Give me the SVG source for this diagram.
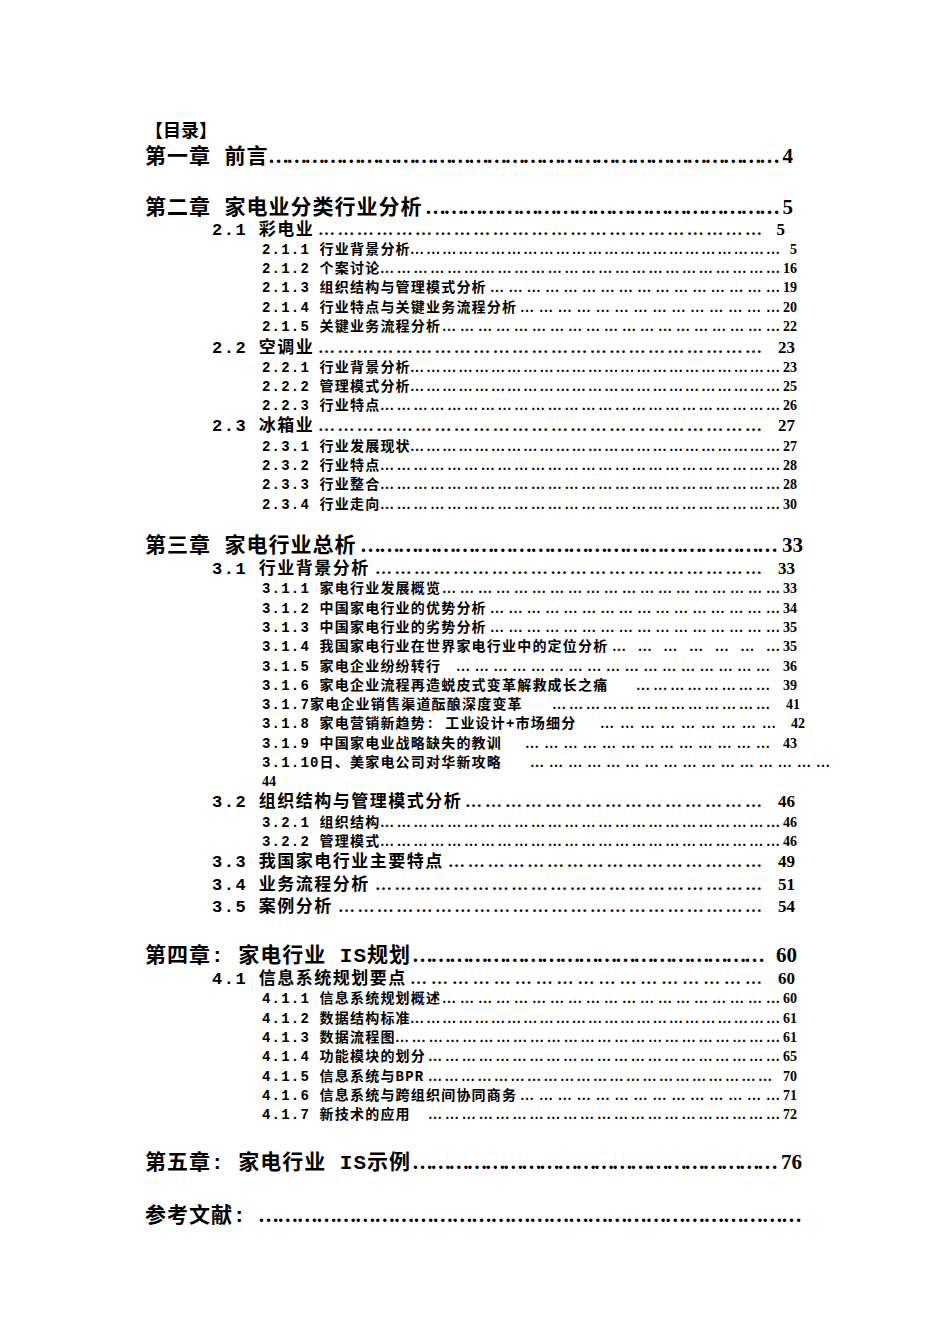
<svg xmlns="http://www.w3.org/2000/svg" width="950" height="1344" viewBox="0 0 950 1344">
<style>
text{font-family:"Liberation Mono","Noto Sans CJK SC",monospace;fill:#000;font-weight:bold}
.c{font-size:21px;letter-spacing:1px}
.s{font-size:17px;letter-spacing:1.5px}
.t{font-size:14px;letter-spacing:1.2px;font-weight:normal}
.d{font-family:"Liberation Serif",serif;letter-spacing:0}
.n{text-anchor:end;font-family:"Liberation Serif",serif;letter-spacing:0}
</style>
<rect width="950" height="1344" fill="#fff"/>
<text x="145" y="137" style="font-size:18px">【目录】</text>
<g class="c">
<text x="145" y="163">第一章 前言</text><text class="d" x="268" y="163" textLength="512" lengthAdjust="spacing">…………………………………………………………………………</text><text class="n" x="793" y="163">4</text>
<text x="145" y="214">第二章 家电业分类行业分析</text><text class="d" x="425" y="214" textLength="355" lengthAdjust="spacing">…………………………………………………</text><text class="n" x="793" y="214">5</text>
<text x="145" y="552">第三章 家电行业总析</text><text class="d" x="360" y="552" textLength="418" lengthAdjust="spacing">…………………………………………………………</text><text class="n" x="803" y="552">33</text>
<text x="145" y="962">第四章: 家电行业 IS规划</text><text class="d" x="412" y="962" textLength="353" lengthAdjust="spacing">…………………………………………………</text><text class="n" x="797" y="962">60</text>
<text x="145" y="1169">第五章: 家电行业 IS示例</text><text class="d" x="412" y="1169" textLength="366" lengthAdjust="spacing">……………………………………………………</text><text class="n" x="802" y="1169">76</text>
<text x="145" y="1222">参考文献:</text><text class="d" x="258" y="1222" textLength="544" lengthAdjust="spacing">…………………………………………………………………………</text>
</g>
<g class="s">
<text x="212" y="235">2.1 彩电业</text><text class="d" x="318" y="235" textLength="444" lengthAdjust="spacing">……………………………………………………………</text><text class="n" x="785" y="235">5</text>
<text x="212" y="353">2.2 空调业</text><text class="d" x="318" y="353" textLength="444" lengthAdjust="spacing">……………………………………………………………</text><text class="n" x="795" y="353">23</text>
<text x="212" y="431">2.3 冰箱业</text><text class="d" x="318" y="431" textLength="444" lengthAdjust="spacing">……………………………………………………………</text><text class="n" x="795" y="431">27</text>
<text x="212" y="574">3.1 行业背景分析</text><text class="d" x="375" y="574" textLength="387" lengthAdjust="spacing">……………………………………………………</text><text class="n" x="795" y="574">33</text>
<text x="212" y="807">3.2 组织结构与管理模式分析</text><text class="d" x="465" y="807" textLength="297" lengthAdjust="spacing">………………………………………</text><text class="n" x="795" y="807">46</text>
<text x="212" y="867">3.3 我国家电行业主要特点</text><text class="d" x="448" y="867" textLength="314" lengthAdjust="spacing">…………………………………………</text><text class="n" x="795" y="867">49</text>
<text x="212" y="890">3.4 业务流程分析</text><text class="d" x="375" y="890" textLength="387" lengthAdjust="spacing">……………………………………………………</text><text class="n" x="795" y="890">51</text>
<text x="212" y="912">3.5 案例分析</text><text class="d" x="338" y="912" textLength="424" lengthAdjust="spacing">…………………………………………………………</text><text class="n" x="795" y="912">54</text>
<text x="212" y="984">4.1 信息系统规划要点</text><text class="d" x="410" y="984" textLength="352" lengthAdjust="spacing">……………………………………………</text><text class="n" x="795" y="984">60</text>
</g>
<g class="t">
<text x="262" y="254">2.1.1 行业背景分析</text><text class="d" x="410" y="254" textLength="370" lengthAdjust="spacing">……………………………………………………………</text><text class="n" x="797" y="254">5</text>
<text x="262" y="273">2.1.2 个案讨论</text><text class="d" x="380" y="273" textLength="400" lengthAdjust="spacing">………………………………………………………………</text><text class="n" x="797" y="273">16</text>
<text x="262" y="292">2.1.3 组织结构与管理模式分析</text><text class="d" x="490" y="292" textLength="290" lengthAdjust="spacing">…………………………………………</text><text class="n" x="797" y="292">19</text>
<text x="262" y="312">2.1.4 行业特点与关键业务流程分析</text><text class="d" x="520" y="312" textLength="260" lengthAdjust="spacing">……………………………………</text><text class="n" x="797" y="312">20</text>
<text x="262" y="331">2.1.5 关键业务流程分析</text><text class="d" x="442" y="331" textLength="338" lengthAdjust="spacing">…………………………………………………</text><text class="n" x="797" y="331">22</text>
<text x="262" y="372">2.2.1 行业背景分析</text><text class="d" x="410" y="372" textLength="370" lengthAdjust="spacing">……………………………………………………………</text><text class="n" x="797" y="372">23</text>
<text x="262" y="391">2.2.2 管理模式分析</text><text class="d" x="410" y="391" textLength="370" lengthAdjust="spacing">……………………………………………………………</text><text class="n" x="797" y="391">25</text>
<text x="262" y="410">2.2.3 行业特点</text><text class="d" x="380" y="410" textLength="400" lengthAdjust="spacing">………………………………………………………………</text><text class="n" x="797" y="410">26</text>
<text x="262" y="451">2.3.1 行业发展现状</text><text class="d" x="410" y="451" textLength="370" lengthAdjust="spacing">……………………………………………………………</text><text class="n" x="797" y="451">27</text>
<text x="262" y="470">2.3.2 行业特点</text><text class="d" x="380" y="470" textLength="400" lengthAdjust="spacing">………………………………………………………………</text><text class="n" x="797" y="470">28</text>
<text x="262" y="489">2.3.3 行业整合</text><text class="d" x="380" y="489" textLength="400" lengthAdjust="spacing">………………………………………………………………</text><text class="n" x="797" y="489">28</text>
<text x="262" y="509">2.3.4 行业走向</text><text class="d" x="380" y="509" textLength="400" lengthAdjust="spacing">………………………………………………………………</text><text class="n" x="797" y="509">30</text>
<text x="262" y="593">3.1.1 家电行业发展概览</text><text class="d" x="442" y="593" textLength="338" lengthAdjust="spacing">…………………………………………………</text><text class="n" x="797" y="593">33</text>
<text x="262" y="613">3.1.2 中国家电行业的优势分析</text><text class="d" x="490" y="613" textLength="290" lengthAdjust="spacing">…………………………………………</text><text class="n" x="797" y="613">34</text>
<text x="262" y="632">3.1.3 中国家电行业的劣势分析</text><text class="d" x="490" y="632" textLength="290" lengthAdjust="spacing">…………………………………………</text><text class="n" x="797" y="632">35</text>
<text x="262" y="651">3.1.4 我国家电行业在世界家电行业中的定位分析</text><text class="d" x="612" y="651" textLength="168" lengthAdjust="spacing">…………………</text><text class="n" x="797" y="651">35</text>
<text x="262" y="671">3.1.5 家电企业纷纷转行</text><text class="d" x="456" y="671" textLength="314" lengthAdjust="spacing">……………………………………………</text><text class="n" x="797" y="671">36</text>
<text x="262" y="690">3.1.6 家电企业流程再造蜕皮式变革解救成长之痛</text><text class="d" x="636" y="690" textLength="134" lengthAdjust="spacing">……………………</text><text class="n" x="797" y="690">39</text>
<text x="262" y="709">3.1.7家电企业销售渠道酝酿深度变革</text><text class="d" x="552" y="709" textLength="218" lengthAdjust="spacing">…………………………………</text><text class="n" x="800" y="709">41</text>
<text x="262" y="728">3.1.8 家电营销新趋势: 工业设计+市场细分</text><text class="d" x="600" y="728" textLength="176" lengthAdjust="spacing">………………………</text><text class="n" x="805" y="728">42</text>
<text x="262" y="748">3.1.9 中国家电业战略缺失的教训</text><text class="d" x="525" y="748" textLength="245" lengthAdjust="spacing">…………………………………</text><text class="n" x="797" y="748">43</text>
<text x="262" y="767">3.1.10日、美家电公司对华新攻略</text><text class="d" x="530" y="767" textLength="300" lengthAdjust="spacing">…………………………………………</text>
<text x="262" y="786" class="d">44</text>
<text x="262" y="827">3.2.1 组织结构</text><text class="d" x="380" y="827" textLength="400" lengthAdjust="spacing">………………………………………………………………</text><text class="n" x="797" y="827">46</text>
<text x="262" y="846">3.2.2 管理模式</text><text class="d" x="380" y="846" textLength="400" lengthAdjust="spacing">………………………………………………………………</text><text class="n" x="797" y="846">46</text>
<text x="262" y="1003">4.1.1 信息系统规划概述</text><text class="d" x="442" y="1003" textLength="338" lengthAdjust="spacing">…………………………………………………</text><text class="n" x="797" y="1003">60</text>
<text x="262" y="1023">4.1.2 数据结构标准</text><text class="d" x="410" y="1023" textLength="370" lengthAdjust="spacing">……………………………………………………………</text><text class="n" x="797" y="1023">61</text>
<text x="262" y="1042">4.1.3 数据流程图</text><text class="d" x="395" y="1042" textLength="385" lengthAdjust="spacing">……………………………………………………………</text><text class="n" x="797" y="1042">61</text>
<text x="262" y="1061">4.1.4 功能模块的划分</text><text class="d" x="428" y="1061" textLength="352" lengthAdjust="spacing">………………………………………………………</text><text class="n" x="797" y="1061">65</text>
<text x="262" y="1081">4.1.5 信息系统与BPR</text><text class="d" x="428" y="1081" textLength="344" lengthAdjust="spacing">………………………………………………………</text><text class="n" x="797" y="1081">70</text>
<text x="262" y="1100">4.1.6 信息系统与跨组织间协同商务</text><text class="d" x="520" y="1100" textLength="260" lengthAdjust="spacing">……………………………………</text><text class="n" x="797" y="1100">71</text>
<text x="262" y="1119">4.1.7 新技术的应用</text><text class="d" x="428" y="1119" textLength="352" lengthAdjust="spacing">………………………………………………………</text><text class="n" x="797" y="1119">72</text>
</g>
</svg>
